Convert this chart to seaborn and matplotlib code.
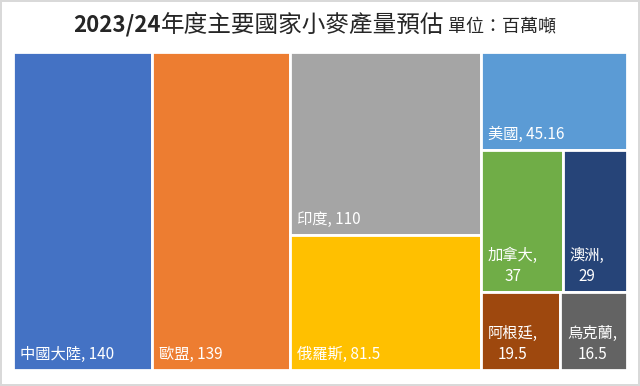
import numpy as np
import pandas as pd
import seaborn as sns
import matplotlib.pyplot as plt

# treemap data: country, production (million tonnes)
names = ['中國大陸', '歐盟', '印度', '俄羅斯', '美國', '加拿大', '澳洲', '阿根廷', '烏克蘭']
values = [140, 139, 110, 81.5, 45.16, 37, 29, 19.5, 16.5]
# which column / row of the treemap each tile sits in
column = [0, 1, 2, 2, 3, 3, 3, 3, 3]
row = [0, 0, 0, 1, 0, 1, 1, 2, 2]
colors = ['#4472C4', '#ED7D31', '#A5A5A5', '#FFC000', '#5B9BD5',
          '#70AD47', '#264478', '#9E480E', '#636363']

sns.set_theme(style='white')
plt.rcParams['font.family'] = ['Noto Sans CJK TC', 'DejaVu Sans']

df = pd.DataFrame({'name': names, 'value': values, 'col': column,
                   'row': row, 'color': colors})
total = df['value'].sum()

# slice-and-dice layout: columns by column sum, rows by row sum, tiles by value
col_sum = df.groupby('col')['value'].sum()
col_x = (col_sum.cumsum() - col_sum) / total
row_sum = df.groupby(['col', 'row'])['value'].sum()

xs, ys, ws, hs = [], [], [], []
for i, r in df.iterrows():
    c, rw = r['col'], r['row']
    rows_c = row_sum.loc[c]
    y0 = rows_c[rows_c.index < rw].sum() / col_sum[c]
    h = rows_c[rw] / col_sum[c]
    same = df[(df['col'] == c) & (df['row'] == rw)]
    before = same[same.index < i]['value'].sum()
    cw = col_sum[c] / total
    xs.append(col_x[c] + cw * before / rows_c[rw])
    ws.append(cw * r['value'] / rows_c[rw])
    ys.append(y0)
    hs.append(h)
df['x'], df['y'], df['w'], df['h'] = xs, ys, ws, hs

fig = plt.figure(figsize=(6.4, 3.86), dpi=100)
fig.patch.set_edgecolor('#d9d9d9')
fig.patch.set_linewidth(1.5)
ax = fig.add_axes([0.0203, 0.0415, 0.9597, 0.824])

ax.bar(df['x'], df['h'], width=df['w'], bottom=df['y'], align='edge',
       color=df['color'], edgecolor='white', linewidth=2)
ax.set_xlim(0, 1)
ax.set_ylim(1, 0)
ax.axis('off')

# labels in the bottom-left corner of each tile
for _, r in df.iterrows():
    val = f"{r['value']:g}"
    if r['w'] * 614 < 100:
        txt = f"{r['name']},\n{val}"
    else:
        txt = f"{r['name']}, {val}"
    ax.annotate(txt, xy=(r['x'], r['y'] + r['h']), xytext=(5, 5),
                textcoords='offset points', ha='left', va='bottom',
                multialignment='center', color='white', fontsize=11,
                linespacing=1.3)

# title in three pieces
t1 = fig.text(0.114, 0.905, '2023/24', fontsize=16, fontweight='bold',
              va='bottom', ha='left')
t2 = ax.annotate('年度主要國家小麥產量預估', xy=(1, 0), xycoords=t1,
                 xytext=(0, -0.5), textcoords='offset points',
                 fontsize=17, va='bottom', ha='left')
t3 = ax.annotate(' 單位：百萬噸', xy=(1, 0), xycoords=t2, xytext=(0, 1.5),
                 textcoords='offset points', fontsize=13, va='bottom', ha='left')

fig.savefig('out.png', dpi=100)
